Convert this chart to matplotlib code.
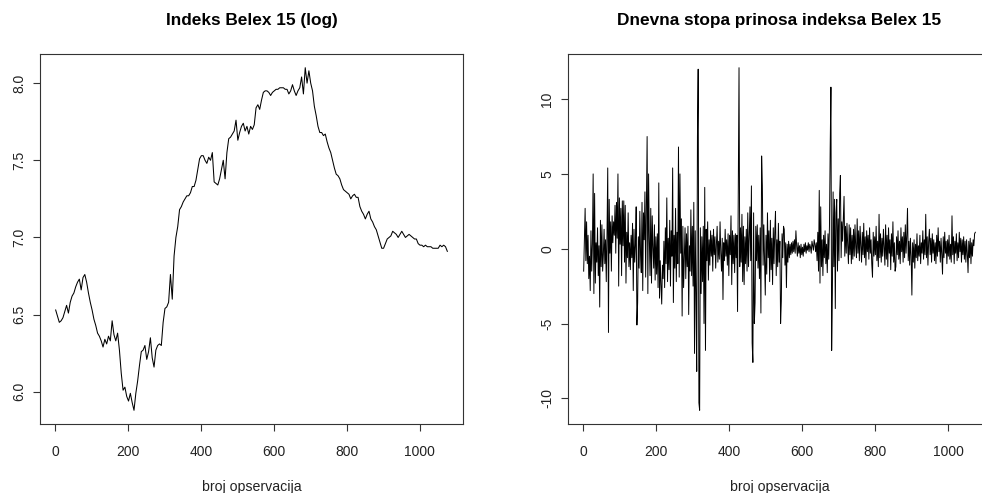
import numpy as np
import matplotlib
matplotlib.use("Agg")
import matplotlib.pyplot as plt

plt.rcParams['font.family'] = ['Liberation Sans', 'DejaVu Sans']

# ---------------- data ----------------
title_left = "Indeks Belex 15 (log)"
title_right = "Dnevna stopa prinosa indeksa Belex 15"
xlabel_text = "broj opservacija"

# log index, read every 5th observation (obs 1, 6, ..., 1076)
log_step = 5
log_index = [
    6.53, 6.49, 6.45, 6.46, 6.48, 6.52, 6.56, 6.51, 6.58, 6.62,
    6.64, 6.68, 6.71, 6.73, 6.66, 6.74, 6.76, 6.71, 6.64, 6.58,
    6.53, 6.47, 6.43, 6.38, 6.36, 6.33, 6.29, 6.34, 6.31, 6.36,
    6.33, 6.46, 6.37, 6.33, 6.38, 6.27, 6.12, 6.01, 6.03, 5.97,
    5.94, 5.99, 5.93, 5.88, 5.99, 6.07, 6.17, 6.26, 6.27, 6.30,
    6.21, 6.26, 6.35, 6.22, 6.16, 6.27, 6.30, 6.31, 6.30, 6.45,
    6.54, 6.55, 6.58, 6.76, 6.60, 6.88, 7.00, 7.07, 7.18, 7.20,
    7.23, 7.25, 7.27, 7.27, 7.29, 7.33, 7.33, 7.37, 7.44, 7.51,
    7.53, 7.53, 7.50, 7.48, 7.52, 7.50, 7.55, 7.36, 7.35, 7.34,
    7.38, 7.44, 7.50, 7.38, 7.55, 7.64, 7.65, 7.67, 7.69, 7.76,
    7.63, 7.68, 7.72, 7.74, 7.69, 7.72, 7.67, 7.72, 7.70, 7.73,
    7.84, 7.86, 7.83, 7.89, 7.94, 7.95, 7.95, 7.94, 7.92, 7.94,
    7.95, 7.96, 7.96, 7.97, 7.97, 7.97, 7.96, 7.96, 7.93, 7.95,
    7.99, 7.95, 7.92, 7.95, 7.97, 8.04, 7.93, 8.10, 8.00, 8.08,
    8.00, 7.95, 7.85, 7.79, 7.72, 7.68, 7.68, 7.66, 7.67, 7.62,
    7.58, 7.55, 7.50, 7.45, 7.41, 7.40, 7.38, 7.34, 7.31, 7.30,
    7.29, 7.28, 7.25, 7.27, 7.28, 7.26, 7.26, 7.20, 7.17, 7.15,
    7.12, 7.15, 7.17, 7.12, 7.10, 7.07, 7.05, 7.01, 6.97, 6.93,
    6.93, 6.96, 6.99, 7.00, 7.01, 7.04, 7.03, 7.02, 7.00, 7.02,
    7.04, 7.02, 7.00, 7.01, 7.02, 7.01, 7.00, 6.99, 6.99, 6.96,
    6.95, 6.95, 6.94, 6.95, 6.94, 6.94, 6.94, 6.93, 6.93, 6.93,
    6.93, 6.95, 6.94, 6.95, 6.94, 6.91,
]

# daily returns (%), read every 2nd observation (obs 1, 3, ..., 1075)
ret_step = 2
returns = [
    -1.5, 0.5, 2.7, -0.8, 1.8, -1.0, 0.9, -2.0, -0.5, -2.8,
    1.2, -1.5, 0.3, 5.0, -3.0, 3.7, -2.3, 0.4, -0.9, 1.4,
    -1.8, 0.2, -3.9, 1.9, -1.2, 1.6, -1.5, -0.4, 1.3, -1.0,
    0.6, -2.2, 1.0, 5.4, -5.6, 3.3, -0.3, 1.8, -1.5, 2.2,
    0.4, 1.8, 0.9, 2.9, -0.3, 3.1, 0.7, 5.0, -2.5, 3.4,
    0.3, 2.7, -1.8, 3.2, 0.2, 3.2, -0.9, 2.9, -2.3, 1.1,
    -0.6, 2.4, -1.2, 0.4, -1.4, 0.9, -0.6, 1.7, -2.8, 1.3,
    -0.9, 0.2, 2.8, -5.1, -3.6, 0.8, -1.3, 2.5, -0.4, -1.6,
    3.1, -2.8, 2.4, 0.6, 3.8, -1.9, 2.9, 7.5, -3.0, 5.0,
    0.7, -1.8, 2.7, -2.3, 2.2, 0.1, -1.3, 1.6, -2.1, 0.8,
    -1.7, 1.0, -2.6, 4.4, -3.3, -0.8, -2.4, -3.7, -1.1, -2.0,
    0.5, -2.6, 1.4, -1.0, 3.4, -2.2, 0.7, -1.4, 1.9, -2.5,
    1.2, -0.5, 5.4, -3.6, 0.9, -1.3, 2.7, -2.2, 1.1, -1.0,
    6.8, -1.9, 5.0, -0.3, 2.0, -4.5, 1.5, -2.6, -0.7, 1.4,
    -2.0, 1.0, -1.2, 1.5, -4.4, 0.2, -1.5, 2.6, -1.8, 1.5,
    -2.5, 3.1, -7.0, 1.2, -3.0, -8.2, 7.5, 12.0, -10.3, -10.8,
    1.4, -3.0, 0.8, -2.2, 1.5, -5.0, 4.1, -6.8, 1.3, -0.8,
    1.8, -2.1, 0.6, -1.1, 1.2, -0.5, 0.9, -1.5, 1.3, -0.4,
    0.8, -1.3, 0.3, 1.5, -0.9, 0.5, -0.7, 1.8, -0.3, -1.5,
    0.7, -3.4, 0.4, -0.8, 1.3, -0.5, 0.6, -1.1, 1.0, -1.8,
    0.9, -0.4, 2.2, -2.4, 1.2, -1.0, 0.9, -1.6, 1.0, -0.6,
    0.9, -4.2, 4.0, 12.1, -1.2, 1.4, -0.9, 2.3, -2.2, 1.5,
    -2.4, 0.8, -1.0, 1.3, -1.5, 2.4, -1.2, 0.9, 2.8, -0.8,
    4.2, -6.3, -7.6, 2.4, -5.0, -3.6, 1.5, -0.8, 1.6, -1.3,
    0.9, -2.0, 1.4, -4.3, 6.2, 4.2, -1.1, 1.6, -0.6, -3.1,
    0.9, -1.7, 2.4, -0.6, 1.2, -2.2, 1.9, -1.4, 0.7, -2.4,
    1.4, -1.0, 1.1, 2.5, -1.8, 0.6, -1.2, 1.7, -0.9, 0.5,
    -5.0, -3.5, 1.0, -0.6, 1.5, 1.3, -1.1, 0.4, -2.6, 0.3,
    -0.9, 0.5, -0.6, 0.3, -0.4, 0.4, -0.3, 0.5, -0.2, 0.6,
    -0.3, 1.2, 0.2, -0.5, 0.4, -0.3, 0.2, -0.6, 0.3, -0.4,
    0.1, -0.5, 0.3, -0.2, 0.4, -0.3, 0.2, -0.1, 0.4, -0.2,
    0.3, 0.1, -0.3, 0.5, 0.2, -0.1, 0.6, 0.3, -0.2, 0.4,
    -0.8, 1.1, -1.5, 3.9, -2.3, 2.8, -1.2, 0.6, -1.8, 0.9,
    -0.6, 1.2, -1.0, 0.3, -1.6, 1.0, -0.7, 1.5, 6.7, 10.8,
    -6.8, -3.0, 3.8, -1.2, 3.3, -4.0, 2.4, 3.3, -1.5, 2.0,
    -0.8, 3.7, 4.9, -0.6, 1.8, 0.5, 2.1, 3.5, -0.5, 1.5,
    -0.3, 1.7, 0.2, -1.0, 1.6, -0.4, 1.4, -1.0, 0.9, -0.7,
    1.3, -0.5, 1.6, 0.1, -0.6, 2.0, -0.3, 1.2, -0.8, 1.5,
    0.2, -0.9, 1.1, -0.4, 1.7, -0.6, 0.8, -1.1, 1.2, -0.2,
    0.9, -0.7, 1.4, -0.3, 0.6, -1.0, -1.9, 1.1, -0.5, 0.8,
    -0.4, 1.5, -0.8, 0.5, -1.2, 2.3, -0.6, 1.0, -0.9, 0.7,
    -0.5, 1.3, 0.1, -1.1, 1.6, -0.7, 0.9, -1.2, 1.4, -0.3,
    0.6, -1.4, 1.0, -0.5, 1.8, -0.9, 0.4, -1.5, -1.2, 0.8,
    -0.4, 1.2, -0.7, 0.5, -1.0, 1.4, -0.2, 0.8, -0.9, 1.1,
    -0.6, 1.6, -0.3, 0.9, 2.7, -0.8, 0.5, -1.1, 0.7, -0.5,
    -3.1, 0.4, -0.9, 0.6, -1.3, 0.3, -0.6, 1.0, -0.8, 0.2,
    -0.5, 0.9, -1.0, 0.4, -0.3, 1.2, -0.7, 0.6, -0.4, 2.3,
    -0.6, 0.8, -1.1, 0.5, 1.3, -0.4, 0.7, -0.9, 1.0, -0.3,
    0.6, -0.8, 0.4, -1.0, 0.9, -0.5, 1.4, -0.2, 0.5, -0.9,
    0.7, -0.4, -1.7, 0.8, -0.6, 1.1, -0.3, 0.5, -1.0, 0.6,
    -0.5, 0.9, -0.7, 0.3, -0.9, 2.2, -0.4, 0.8, -1.0, 0.5,
    -0.3, 1.0, -0.8, 0.4, -0.6, 1.1, -0.2, 0.7, -0.9, 0.6,
    -0.4, 0.8, -0.7, 0.5, -0.9, 0.6, -0.3, -1.6, 0.5, -0.6,
    0.7, -1.0, 0.4, -0.5, 0.6, 0.2, 1.0, 1.1,
]

x_ticks = [0, 200, 400, 600, 800, 1000]
y_ticks_left = [6.0, 6.5, 7.0, 7.5, 8.0]
y_ticks_right = [-10, -5, 0, 5, 10]

# ---------------- figure ----------------
W, H = 982, 493
fig = plt.figure(figsize=(W / 100, H / 100), dpi=100)

def px_axes(x0, y0, x1, y1):
    return fig.add_axes([x0 / W, 1 - y1 / H, (x1 - x0) / W, (y1 - y0) / H])

axL = px_axes(40, 54, 463, 424)
axR = px_axes(568, 54, 991, 424)

def r_limits(vals):
    lo, hi = min(vals), max(vals)
    pad = 0.04 * (hi - lo)
    return lo - pad, hi + pad

xL = np.arange(1, 1 + log_step * len(log_index), log_step)
xR = np.arange(1, 1 + ret_step * len(returns), ret_step)

axL.plot(xL, log_index, color='black', lw=0.75)
axR.plot(xR, returns, color='black', lw=0.7)

for ax, xs, ys, yt in [(axL, xL, log_index, y_ticks_left),
                       (axR, xR, returns, y_ticks_right)]:
    ax.set_xlim(*r_limits([1, xs[-1]]))
    ax.set_ylim(*r_limits(ys))
    ax.set_xticks(x_ticks)
    ax.set_xticklabels([str(t) for t in x_ticks])
    ax.set_yticks(yt)
    ax.set_yticklabels([f"{t:.1f}" if isinstance(t, float) else str(t) for t in yt],
                       rotation=90, va='center')
    for s in ax.spines.values():
        s.set_color('#333333')
        s.set_linewidth(0.8)
    ax.tick_params(axis='both', direction='out', length=5, width=0.8,
                   color='#333333', labelsize=10, labelcolor='#222222')
    ax.tick_params(axis='x', pad=10)
    ax.tick_params(axis='y', pad=5)

fig.text(251.5 / W, 1 - 20 / H, title_left, ha='center', va='center',
         fontsize=12.4, fontweight='bold')
fig.text(779.5 / W, 1 - 20 / H, title_right, ha='center', va='center',
         fontsize=12.4, fontweight='bold')
fig.text(251.5 / W, 1 - 487 / H, xlabel_text, ha='center', va='center',
         fontsize=10.2, color='#222222')
fig.text(779.5 / W, 1 - 487 / H, xlabel_text, ha='center', va='center',
         fontsize=10.2, color='#222222')

fig.savefig("out.png", dpi=100)
